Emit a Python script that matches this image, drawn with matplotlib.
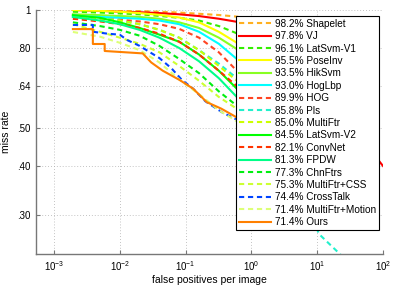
import numpy as np
import matplotlib
matplotlib.use('Agg')
import matplotlib.pyplot as plt
from matplotlib.ticker import FixedLocator, NullLocator

plt.rcParams['font.family'] = ['Liberation Sans', 'DejaVu Sans']
plt.rcParams['font.size'] = 7
plt.rcParams['mathtext.fontset'] = 'custom'
plt.rcParams['mathtext.rm'] = 'Liberation Sans'

# shared fppi grid for most detectors
fppi_grid = [0.00194, 0.005, 0.01, 0.02, 0.04, 0.08, 0.16, 0.32, 0.6, 1.5, 5, 20]

# log-average miss rates shown in the legend
names = ['Shapelet', 'VJ', 'LatSvm-V1', 'PoseInv', 'HikSvm', 'HogLbp', 'HOG', 'Pls',
         'MultiFtr', 'LatSvm-V2', 'ConvNet', 'FPDW', 'ChnFtrs', 'MultiFtr+CSS',
         'CrossTalk', 'MultiFtr+Motion', 'Ours']
lamr = [98.2, 97.8, 96.1, 95.5, 93.5, 93.0, 89.9, 85.8, 85.0, 84.5, 82.1, 81.3,
        77.3, 75.3, 74.4, 71.4, 71.4]

# miss rate curves
miss_shapelet = [1.0, 0.999, 0.997, 0.994, 0.99, 0.985, 0.978, 0.971, 0.962, 0.93, 0.86, 0.75]
fppi_vj = [0.00194, 0.005, 0.01, 0.02, 0.04, 0.08, 0.16, 0.32, 0.6, 2, 10, 40, 85, 100]
miss_vj = [1.0, 0.995, 0.99, 0.987, 0.982, 0.975, 0.965, 0.95, 0.933, 0.87, 0.72, 0.53, 0.414, 0.40]
miss_latsvm1 = [0.99, 0.985, 0.98, 0.975, 0.966, 0.955, 0.94, 0.91, 0.872, 0.8, 0.68, 0.55]
miss_poseinv = [1.0, 0.995, 0.99, 0.982, 0.972, 0.957, 0.93, 0.88, 0.825, 0.72, 0.6, 0.48]
miss_hiksvm = [0.975, 0.97, 0.965, 0.96, 0.95, 0.93, 0.9, 0.85, 0.795, 0.7, 0.58, 0.47]
miss_hoglbp = [0.965, 0.96, 0.955, 0.95, 0.94, 0.92, 0.88, 0.82, 0.75, 0.64, 0.52, 0.42]
miss_hog = [0.95, 0.948, 0.944, 0.935, 0.92, 0.895, 0.85, 0.78, 0.7, 0.6, 0.48, 0.38]
fppi_pls = [0.00194, 0.005, 0.01, 0.02, 0.04, 0.08, 0.16, 0.32, 0.6, 2, 5, 10.7, 22.4, 40]
miss_pls = [0.97, 0.955, 0.94, 0.92, 0.89, 0.85, 0.79, 0.73, 0.67, 0.48, 0.36, 0.268, 0.238, 0.21]
miss_multiftr = [0.96, 0.95, 0.94, 0.92, 0.89, 0.85, 0.79, 0.72, 0.66, 0.57, 0.47, 0.38]
miss_latsvm2 = [0.97, 0.955, 0.93, 0.9, 0.865, 0.83, 0.77, 0.7, 0.63, 0.54, 0.45, 0.37]
miss_convnet = [0.95, 0.935, 0.92, 0.9, 0.87, 0.83, 0.77, 0.7, 0.64, 0.55, 0.45, 0.36]
miss_fpdw = [0.96, 0.94, 0.92, 0.89, 0.85, 0.8, 0.74, 0.67, 0.6, 0.52, 0.43, 0.35]
miss_chnftrs = [0.93, 0.91, 0.89, 0.86, 0.81, 0.75, 0.69, 0.62, 0.57, 0.49, 0.41, 0.33]
miss_mfcss = [0.92, 0.88, 0.85, 0.82, 0.78, 0.72, 0.66, 0.6, 0.56, 0.48, 0.4, 0.33]
fppi_crosstalk = [0.00194, 0.0039, 0.0039, 0.0066, 0.01, 0.013, 0.02, 0.04, 0.061, 0.088,
                  0.13, 0.2, 0.36, 0.6, 1.5, 5, 20]
miss_crosstalk = [0.916, 0.916, 0.88, 0.87, 0.865, 0.838, 0.81, 0.754, 0.71, 0.663,
                  0.63, 0.585, 0.548, 0.525, 0.46, 0.39, 0.32]
miss_mfmotion = [0.879, 0.855, 0.825, 0.79, 0.735, 0.665, 0.61, 0.555, 0.52, 0.46, 0.39, 0.32]
fppi_ours = [0.00194, 0.0039, 0.0039, 0.0059, 0.0059, 0.0223, 0.03, 0.045, 0.081, 0.13,
             0.21, 0.35, 0.6, 1.5, 5, 20]
miss_ours = [0.894, 0.894, 0.819, 0.819, 0.786, 0.775, 0.735, 0.70, 0.663, 0.63,
             0.582, 0.56, 0.532, 0.48, 0.41, 0.35]

curves = [
    (fppi_grid, miss_shapelet, '#ffb020', '--'),
    (fppi_vj, miss_vj, '#ff0000', '-'),
    (fppi_grid, miss_latsvm1, '#33ee00', '--'),
    (fppi_grid, miss_poseinv, '#ffff00', '-'),
    (fppi_grid, miss_hiksvm, '#88ff22', '-'),
    (fppi_grid, miss_hoglbp, '#00ffff', '-'),
    (fppi_grid, miss_hog, '#ff4422', '--'),
    (fppi_pls, miss_pls, '#22f0cc', '--'),
    (fppi_grid, miss_multiftr, '#ccff00', '--'),
    (fppi_grid, miss_latsvm2, '#00ff00', '-'),
    (fppi_grid, miss_convnet, '#ff3300', '--'),
    (fppi_grid, miss_fpdw, '#00ff88', '-'),
    (fppi_grid, miss_chnftrs, '#00ee11', '--'),
    (fppi_grid, miss_mfcss, '#ccff33', '--'),
    (fppi_crosstalk, miss_crosstalk, '#0044ff', '--'),
    (fppi_grid, miss_mfmotion, '#ddff77', '--'),
    (fppi_ours, miss_ours, '#ff8000', '-'),
]

fig = plt.figure(figsize=(3.93, 2.86), dpi=100)
ax = fig.add_axes([36/393, 1 - 254/286, 347/393, 244/286])

for (fx, my, col, ls), name, lm in zip(curves, names, lamr):
    style = (0, (2.5, 1.8)) if ls == '--' else '-'
    ax.plot(fx, my, color=col, linestyle=style, lw=1.5, label=f'{lm:.1f}% {name}')

ax.set_xscale('log')
ax.set_yscale('log')
ax.set_xlim(10**-3.273, 100)
ax.set_ylim(0.2385, 1.0)

ax.xaxis.set_major_locator(FixedLocator([1e-3, 1e-2, 1e-1, 1e0, 1e1, 1e2]))
ax.xaxis.set_minor_locator(NullLocator())
ax.set_xticklabels([r'$10^{-3}$', r'$10^{-2}$', r'$10^{-1}$', r'$10^{0}$', r'$10^{1}$', r'$10^{2}$'])
yt = [0.30, 0.40, 0.50, 0.64, 0.80, 1.0]
ax.yaxis.set_major_locator(FixedLocator(yt))
ax.yaxis.set_minor_locator(NullLocator())
ax.set_yticklabels(['.30', '.40', '.50', '.64', '.80', '1'])

ax.grid(True, linestyle=(0, (1, 2.5)), color='#b0b0b0', lw=0.6)
for s in ['top', 'right']:
    ax.spines[s].set_visible(False)
for s in ['left', 'bottom']:
    ax.spines[s].set_color('#777777')
    ax.spines[s].set_linewidth(1.0)
ax.tick_params(direction='in', length=3, color='#777777', labelsize=7, pad=4)

ax.set_xlabel('false positives per image', fontsize=7.5, labelpad=1)
ax.set_ylabel('miss rate', fontsize=7.5, labelpad=4)

leg = ax.legend(loc='upper right', bbox_to_anchor=(0.9885, 0.9766), borderaxespad=0,
                fontsize=7.2, handlelength=3.2, handletextpad=0.35, labelspacing=0.24,
                borderpad=0.3, fancybox=False, framealpha=1)
leg.get_frame().set_edgecolor('black')
leg.get_frame().set_linewidth(0.8)

fig.savefig('out.png', dpi=100)
